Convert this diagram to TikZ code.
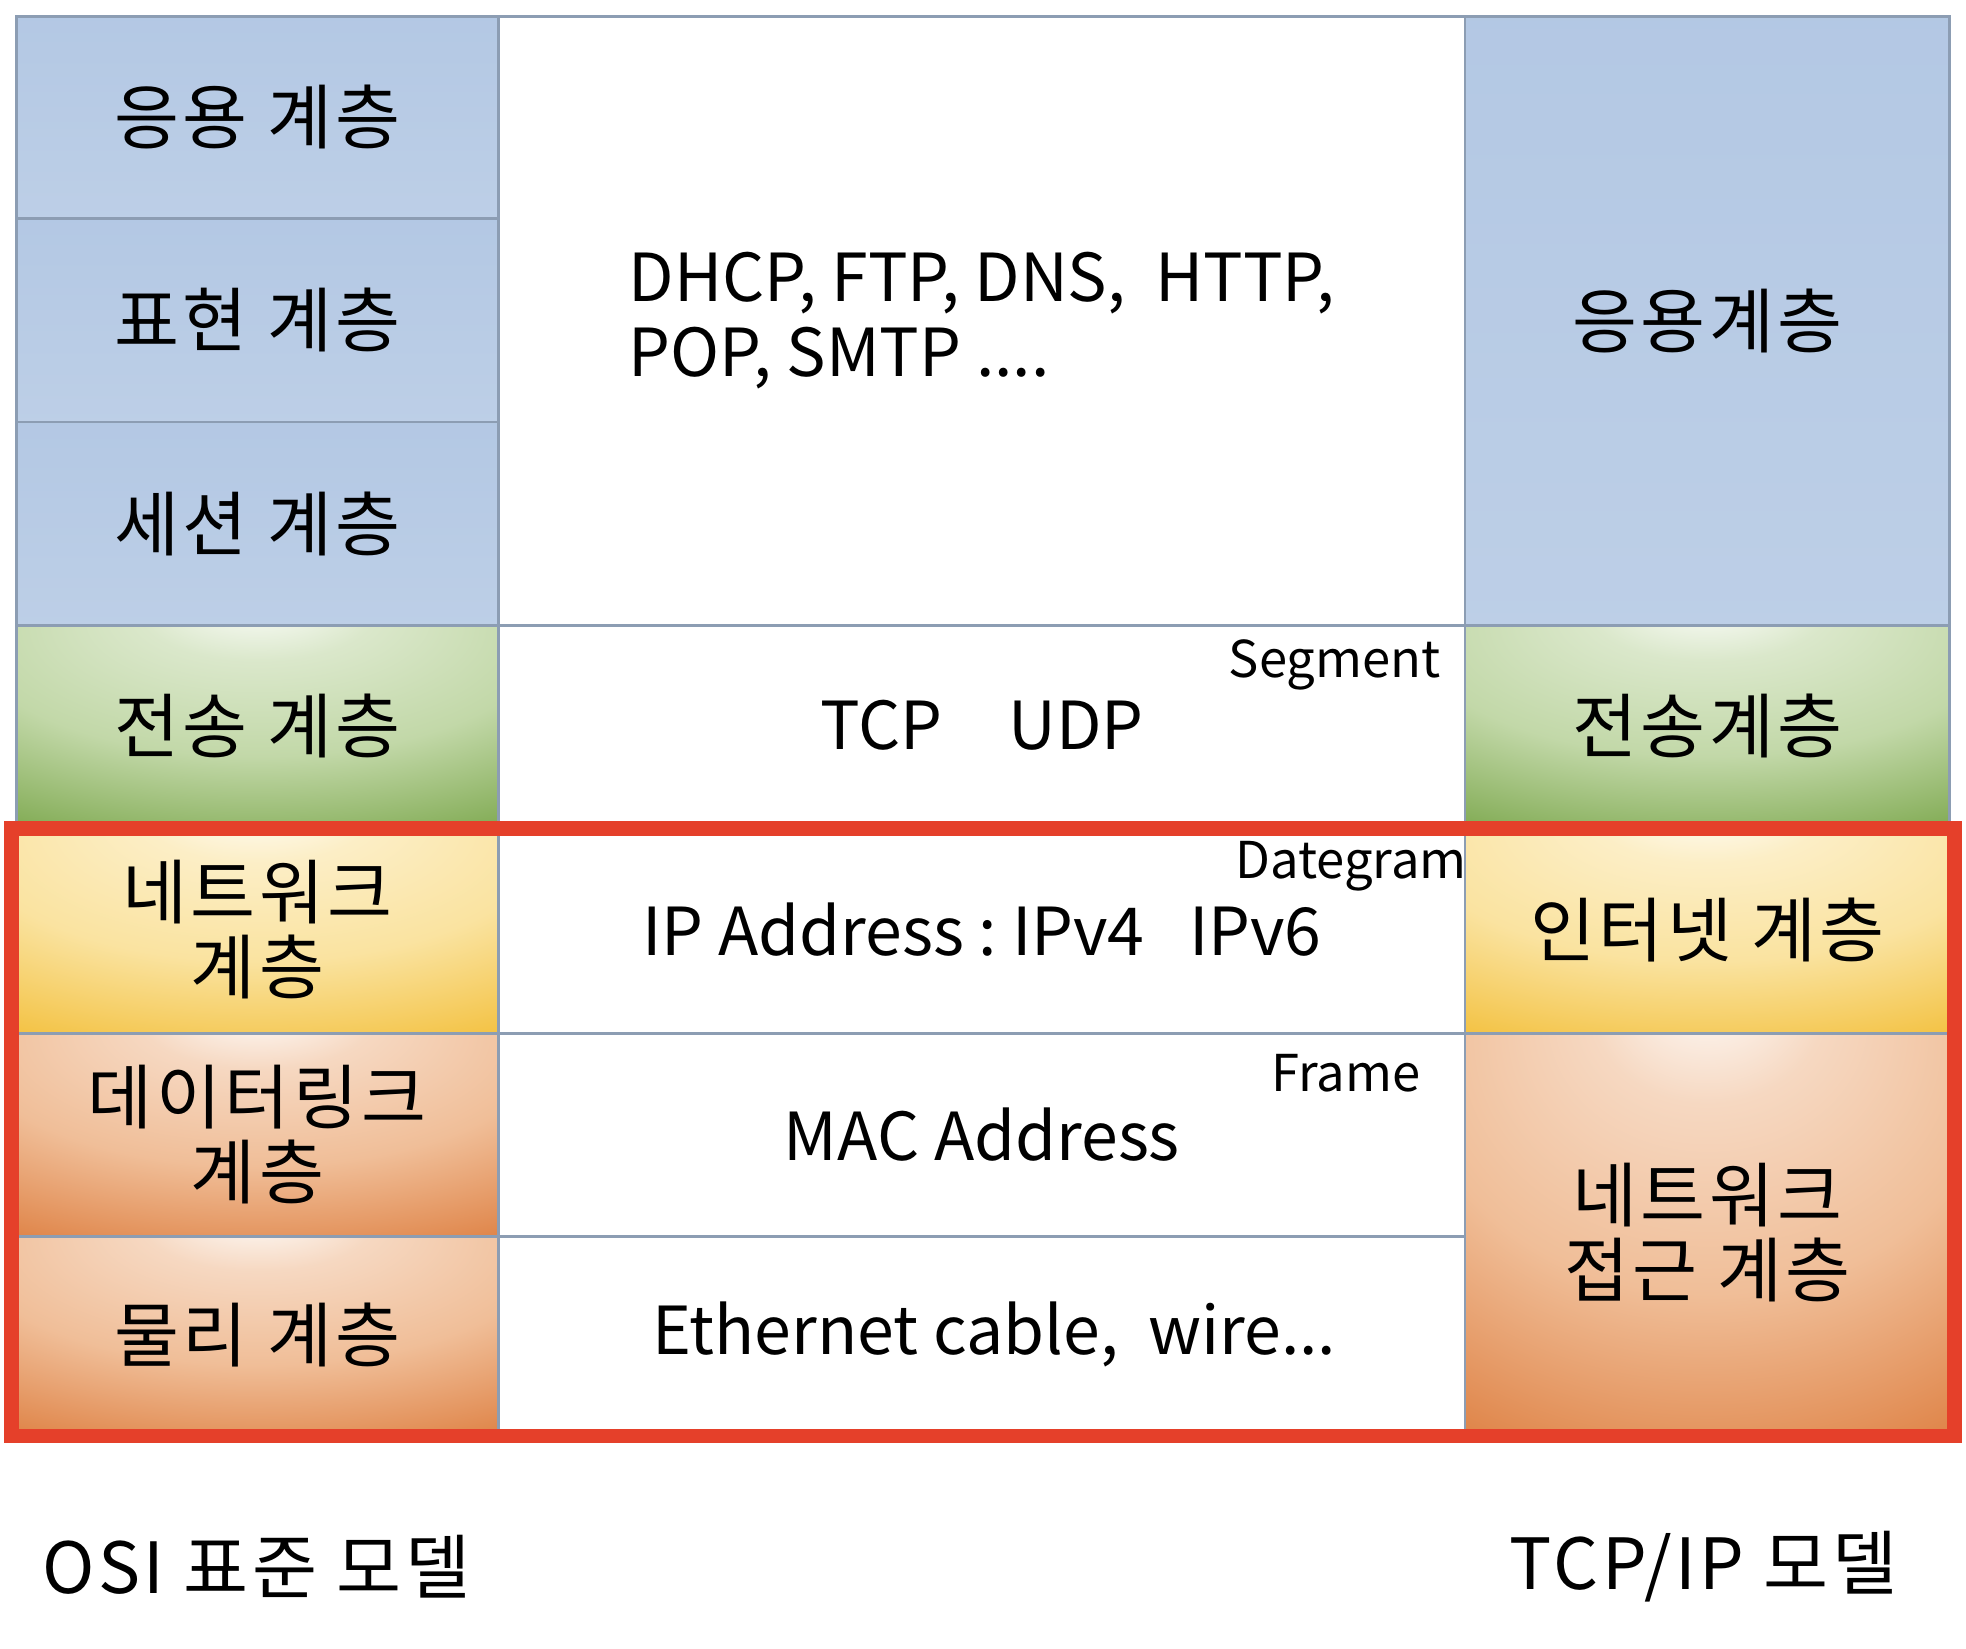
\documentclass[tikz,border=0pt]{standalone}
\usepackage{fontspec}
\setmainfont{Noto Sans CJK KR}
\newfontfamily\korfont{Noto Sans CJK KR}[LetterSpace=5]
\definecolor{gridc}{HTML}{8C9DB3}
\definecolor{redc}{HTML}{E5402A}
\definecolor{bluebase}{HTML}{B2C7E3}
\definecolor{bluetop}{HTML}{E6EEF8}
\definecolor{greenedge}{HTML}{76A345}
\definecolor{greenmid}{HTML}{C2D8A8}
\definecolor{yellowedge}{HTML}{F2BC32}
\definecolor{yellowmid}{HTML}{FAE3A0}
\definecolor{orangeedge}{HTML}{DC7A3A}
\definecolor{orangemid}{HTML}{F0BE98}
\pgfdeclareverticalshading{bluecell}{100bp}{color(0bp)=(bluebase!80!white); color(82bp)=(bluebase); color(100bp)=(bluetop)}
\pgfdeclareradialshading{greencell}{\pgfpoint{0bp}{32bp}}{color(0bp)=(white); color(12bp)=(greenmid!60!white); color(30bp)=(greenmid); color(52bp)=(greenedge); color(100bp)=(greenedge)}
\pgfdeclareradialshading{yellowcell}{\pgfpoint{0bp}{32bp}}{color(0bp)=(white); color(12bp)=(yellowmid!60!white); color(30bp)=(yellowmid); color(52bp)=(yellowedge); color(100bp)=(yellowedge)}
\pgfdeclareradialshading{orangecell}{\pgfpoint{0bp}{32bp}}{color(0bp)=(white); color(12bp)=(orangemid!60!white); color(30bp)=(orangemid); color(52bp)=(orangeedge); color(100bp)=(orangeedge)}
\newcommand{\laytext}{\korfont\fontsize{16}{17}\selectfont}
\newcommand{\prototext}{\fontsize{15}{17}\selectfont}
\newcommand{\tagtext}{\fontsize{11.5}{13}\selectfont}
\tikzset{
  layer/.style={draw=gridc, line width=0.6pt, anchor=north west, inner sep=0pt,
    align=center, minimum width=3.84cm, font=\laytext},
  bluebox/.style={shading=bluecell},
  greenbox/.style={shading=greencell},
  yellowbox/.style={shading=yellowcell},
  orangebox/.style={shading=orangecell},
  proto/.style={layer, fill=white, minimum width=7.7cm, font=\prototext},
  pdu/.style={anchor=east, inner sep=0pt, font=\tagtext}
}
\begin{document}
\begin{tikzpicture}
    \useasboundingbox (0,0) rectangle (15.66,-13.13);
    % OSI
    \node[layer, bluebox, minimum height=1.61cm] (app) at (0.12,-0.12) {응용 계층};
    \node[layer, bluebox, minimum height=1.62cm] (pre) at (0.12,-1.73) {표현 계층};
    \node[layer, bluebox, minimum height=1.62cm] (ses) at (0.12,-3.35) {세션 계층};
    \node[layer, greenbox, minimum height=1.60cm] (tra) at (0.12,-4.97) {전송 계층};
    \node[layer, yellowbox, minimum height=1.65cm] (net) at (0.12,-6.57) {네트워크\\계층};
    \node[layer, orangebox, minimum height=1.62cm] (dat) at (0.12,-8.22) {데이터링크\\계층};
    \node[layer, orangebox, minimum height=1.56cm] (phy) at (0.12,-9.84) {물리 계층};
    % protocols
    \node[proto, minimum height=4.85cm, align=left] (mapp) at (3.96,-0.12) {DHCP, FTP, DNS,\ \ HTTP,\\POP, SMTP ....};
    \node[proto, minimum height=1.60cm] (mtra) at (3.96,-4.97) {TCP\quad UDP};
    \node[proto, minimum height=1.65cm] (mnet) at (3.96,-6.57) {IP\ Address\ :\ IPv4\ \ \ IPv6};
    \node[proto, minimum height=1.62cm] (mdat) at (3.96,-8.22) {MAC Address};
    \node[proto, minimum height=1.56cm] (mphy) at (3.96,-9.84) {\hspace{0.2cm}Ethernet cable,\ \ wire...};
    % TCP/IP
    \node[layer, bluebox, minimum width=3.86cm, minimum height=4.85cm] (tapp) at (11.66,-0.12) {응용계층};
    \node[layer, greenbox, minimum width=3.86cm, minimum height=1.60cm] (ttra) at (11.66,-4.97) {전송계층};
    \node[layer, yellowbox, minimum width=3.86cm, minimum height=1.65cm] (tint) at (11.66,-6.57) {인터넷 계층};
    \node[layer, orangebox, minimum width=3.86cm, minimum height=3.18cm] (tacc) at (11.66,-8.22) {네트워크\\접근 계층};
    % PDU
    \node[pdu] (seg) at (11.48,-5.30) {Segment};
    \node[pdu] (dgram) at (11.69,-6.90) {Dategram};
    \node[pdu] (frm) at (11.32,-8.55) {Frame};
    \draw[redc, line width=0.115cm] (0.09,-6.60) rectangle (15.57,-11.44);
    \node[anchor=west, inner sep=0pt, font=\laytext] (osi) at (0.33,-12.48) {OSI 표준 모델};
    \node[inner sep=0pt, font=\laytext] (tcpip) at (13.57,-12.48) {TCP/IP 모델};
\end{tikzpicture}
\end{document}
